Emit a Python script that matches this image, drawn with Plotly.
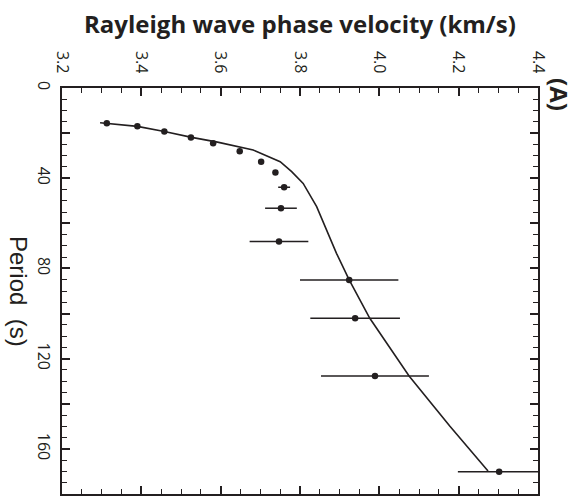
import plotly.graph_objects as go

# Observed phase velocities (km/s) vs period (s)
period_obs = [15.6, 17.0, 19.3, 21.9, 24.5, 28.0, 32.7, 37.5, 44.0, 53.3, 68.1, 85.1, 102.1, 127.7, 170.1]
vel_obs = [3.313, 3.390, 3.458, 3.525, 3.581, 3.648, 3.702, 3.738, 3.760, 3.752, 3.747, 3.924, 3.939, 3.989, 4.302]
vel_err = [0, 0, 0, 0, 0, 0, 0, 0.004, 0.015, 0.040, 0.074, 0.124, 0.113, 0.136, 0.104]

# Model dispersion curve
period_model = [15.4, 17.0, 19.3, 21.9, 24.0, 27.5, 32.7, 37.1, 42.3, 52.6, 73.3, 85.1, 102.1, 127.7, 150.0, 169.8]
vel_model = [3.296, 3.390, 3.458, 3.527, 3.592, 3.682, 3.750, 3.779, 3.808, 3.842, 3.892, 3.924, 3.976, 4.075, 4.178, 4.274]

x_ticks = [3.2, 3.4, 3.6, 3.8, 4.0, 4.2, 4.4]
x_ticktext = ["3.2", "3.4", "3.6", "3.8", "4.0", "4.2", "4.4"]
y_ticks = [0, 20, 40, 60, 80, 100, 120, 140, 160, 180]
y_ticktext = ["0", "", "40", "", "80", "", "120", "", "160", ""]

INK = "#231f20"
FONT = "Open Sans"
X_RANGE = [3.2, 4.4]
Y_RANGE = [180, 0]

fig = go.Figure()
fig.add_trace(go.Scatter(
    x=vel_model, y=period_model, mode="lines",
    line=dict(color=INK, width=1.6), showlegend=False, hoverinfo="skip"))
fig.add_trace(go.Scatter(
    x=vel_obs, y=period_obs, mode="markers",
    marker=dict(color=INK, size=6.5),
    error_x=dict(type="data", array=vel_err, color=INK, thickness=1.5, width=0),
    showlegend=False))
# invisible trace for the mirrored (bottom/right) tick axes
fig.add_trace(go.Scatter(x=[None], y=[None], xaxis="x2", yaxis="y2",
                         showlegend=False, hoverinfo="skip"))

tick_common = dict(ticks="inside", ticklen=8, tickwidth=1.5, tickcolor=INK,
                   showline=True, linecolor=INK, linewidth=2,
                   showgrid=False, zeroline=False)

fig.update_layout(
    width=586, height=496,
    margin=dict(l=62, r=48, t=88, b=2),
    plot_bgcolor="white", paper_bgcolor="white",
    font=dict(family=FONT, color=INK),
    xaxis=dict(
        range=X_RANGE, side="top",
        tickvals=x_ticks, ticktext=x_ticktext, tickangle=90,
        tickfont=dict(size=16, family=FONT, color=INK), ticklabelstandoff=7,
        minor=dict(dtick=0.05, ticks="inside", ticklen=5, tickwidth=1.2, tickcolor=INK),
        **tick_common,
    ),
    xaxis2=dict(
        range=X_RANGE, side="bottom", overlaying="x", anchor="y2",
        tickvals=x_ticks, showticklabels=False,
        minor=dict(dtick=0.05, ticks="inside", ticklen=5, tickwidth=1.2, tickcolor=INK),
        **tick_common,
    ),
    yaxis=dict(
        range=Y_RANGE,
        tickvals=y_ticks, ticktext=y_ticktext, tickangle=90,
        tickfont=dict(size=16, family=FONT, color=INK), ticklabelstandoff=3,
        minor=dict(dtick=5, ticks="inside", ticklen=5, tickwidth=1.2, tickcolor=INK),
        **tick_common,
    ),
    yaxis2=dict(
        range=Y_RANGE, side="right", overlaying="y", anchor="x2",
        tickvals=y_ticks, showticklabels=False,
        minor=dict(dtick=5, ticks="inside", ticklen=5, tickwidth=1.2, tickcolor=INK),
        **tick_common,
    ),
    annotations=[
        dict(text="<b>Rayleigh wave phase velocity (km/s)</b>", xref="paper", yref="paper",
             x=0.5, y=1, yshift=65, xanchor="center", yanchor="middle",
             showarrow=False, font=dict(size=24, family=FONT, color=INK)),
        dict(text="Period  (s)", xref="paper", yref="paper",
             x=0, y=0.5, xshift=-43, xanchor="center", yanchor="middle", textangle=90,
             showarrow=False, font=dict(size=24, family="Liberation Sans", color=INK)),
        dict(text="<b>(A)</b>", xref="paper", yref="paper",
             x=1, y=1, xshift=22, yshift=-6, xanchor="center", yanchor="middle", textangle=90,
             showarrow=False, font=dict(size=24, family=FONT, color=INK)),
    ],
)

fig.write_html("out.html")
